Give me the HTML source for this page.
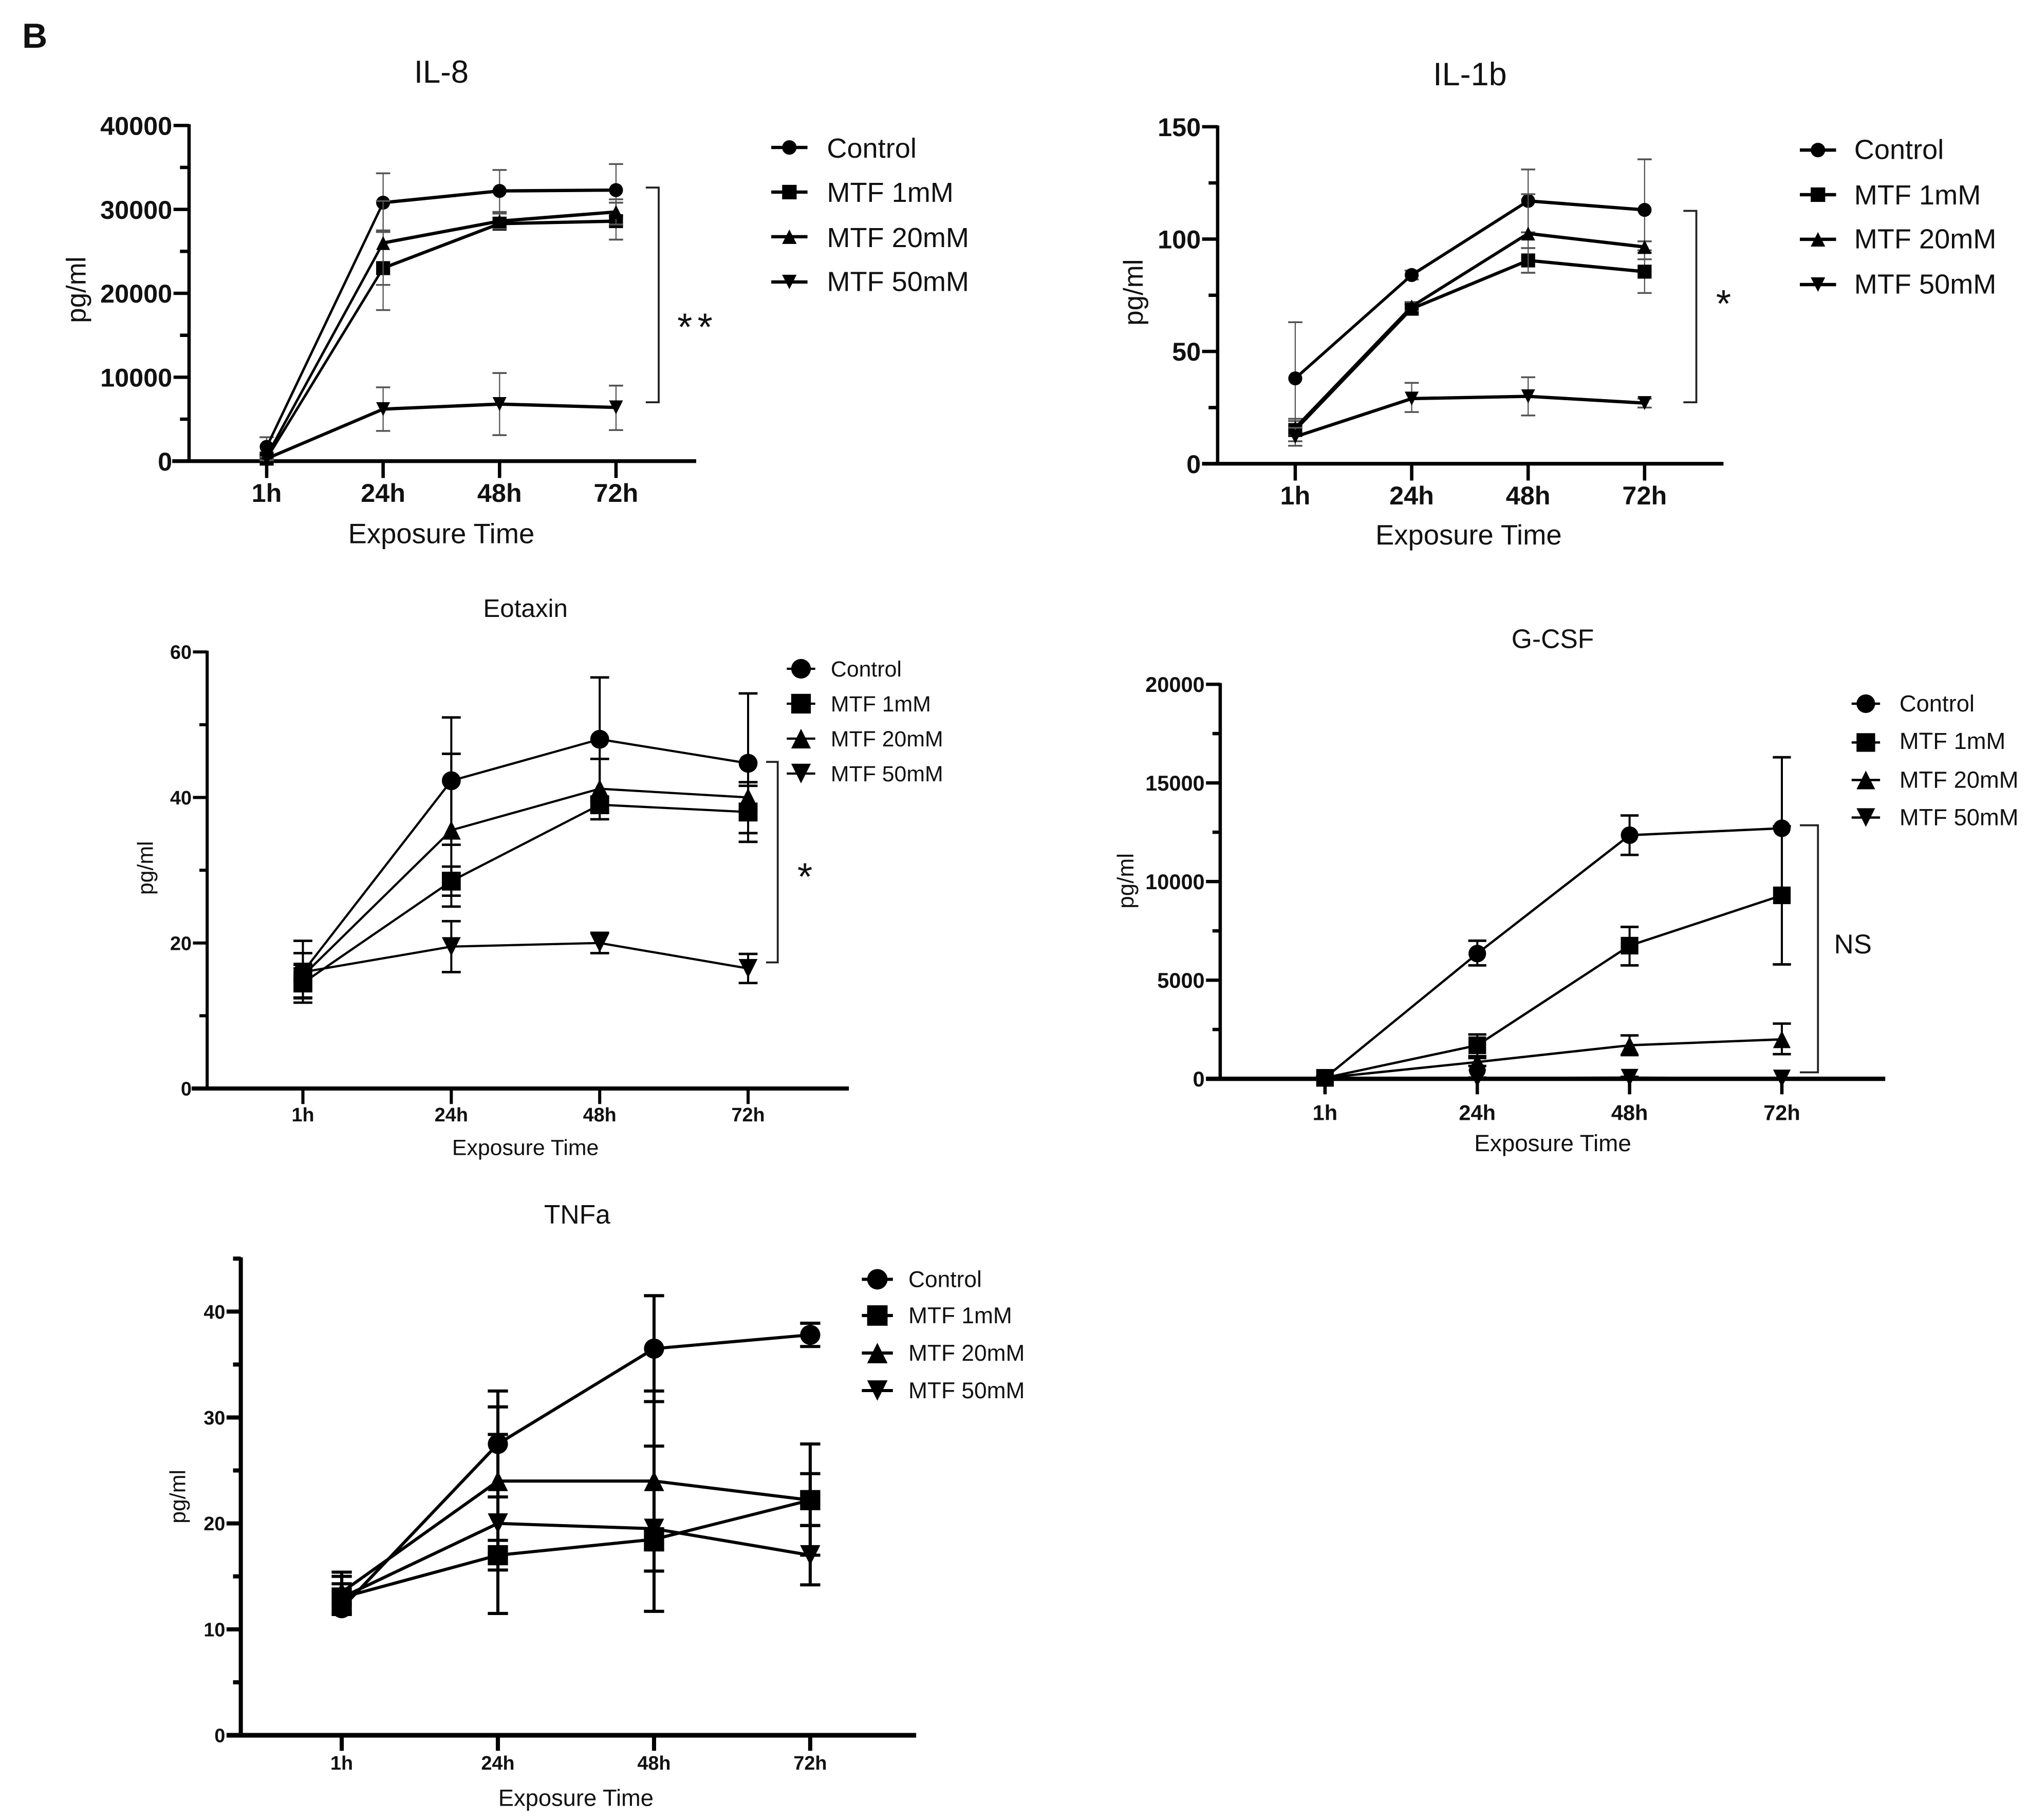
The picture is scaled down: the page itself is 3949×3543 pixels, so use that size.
<!DOCTYPE html>
<html lang="en">
<head>
<meta charset="utf-8">
<title>Cytokine secretion over exposure time</title>
<style>
html,body{margin:0;padding:0;background:#fff;}
svg{display:block;}
text{font-family:"Liberation Sans",Arial,sans-serif;fill:#111;}
.bracket{fill:none;stroke:#222;stroke-width:1.5;}
</style>
</head>
<body>
<svg id="figure" xmlns="http://www.w3.org/2000/svg" width="3949" height="3543" viewBox="0 0 1568 1407">
<rect x="0" y="0" width="1568" height="1407" fill="#fff"/>
<text x="17" y="37" font-size="27" font-weight="bold">B</text>

<g id="p1">
<text x="341" y="64" font-size="24.5" text-anchor="middle">IL-8</text>
<text x="341" y="420" font-size="21.6" text-anchor="middle">Exposure Time</text>
<text transform="translate(66 224) rotate(-90)" font-size="21" text-anchor="middle">pg/ml</text>
<text x="639" y="122" font-size="21.5">Control</text>
<text x="639" y="156" font-size="21.5">MTF 1mM</text>
<text x="639" y="191" font-size="21.5">MTF 20mM</text>
<text x="639" y="225" font-size="21.5">MTF 50mM</text>
<polyline class="bracket" points="499,145 509,145 509,311 499,311"/>
<text x="539" y="263" font-size="30" text-anchor="middle" letter-spacing="4">**</text>
</g>

<g id="p2">
<text x="1136" y="66" font-size="25" text-anchor="middle">IL-1b</text>
<text x="1135" y="421" font-size="21.6" text-anchor="middle">Exposure Time</text>
<text transform="translate(883 226) rotate(-90)" font-size="21" text-anchor="middle">pg/ml</text>
<text x="1433" y="123" font-size="21.5">Control</text>
<text x="1433" y="158" font-size="21.5">MTF 1mM</text>
<text x="1433" y="192" font-size="21.5">MTF 20mM</text>
<text x="1433" y="227" font-size="21.5">MTF 50mM</text>
<polyline class="bracket" points="1301,163 1311,163 1311,311 1301,311"/>
<text x="1332" y="245" font-size="30" text-anchor="middle">*</text>
</g>

<g id="p3">
<text x="406" y="477" font-size="19.6" text-anchor="middle">Eotaxin</text>
<text x="406" y="893" font-size="17" text-anchor="middle">Exposure Time</text>
<text transform="translate(118 671) rotate(-90)" font-size="17" text-anchor="middle">pg/ml</text>
<text x="642" y="523" font-size="17">Control</text>
<text x="642" y="550" font-size="17">MTF 1mM</text>
<text x="642" y="577" font-size="17">MTF 20mM</text>
<text x="642" y="604" font-size="17">MTF 50mM</text>
<polyline class="bracket" points="592,589 601,589 601,744 592,744"/>
<text x="622" y="688" font-size="30" text-anchor="middle">*</text>
</g>

<g id="p4">
<text x="1200" y="501" font-size="20.5" text-anchor="middle">G-CSF</text>
<text x="1200" y="890" font-size="18.2" text-anchor="middle">Exposure Time</text>
<text transform="translate(876 681) rotate(-90)" font-size="17.5" text-anchor="middle">pg/ml</text>
<text x="1468" y="550" font-size="18">Control</text>
<text x="1468" y="579" font-size="18">MTF 1mM</text>
<text x="1468" y="609" font-size="18">MTF 20mM</text>
<text x="1468" y="638" font-size="18">MTF 50mM</text>
<polyline class="bracket" points="1391,638 1405,638 1405,829 1391,829"/>
<text x="1432" y="737" font-size="21" text-anchor="middle">NS</text>
</g>

<g id="p5">
<text x="446" y="946" font-size="20.5" text-anchor="middle">TNFa</text>
<text x="445" y="1396" font-size="18" text-anchor="middle">Exposure Time</text>
<text transform="translate(143 1157) rotate(-90)" font-size="17" text-anchor="middle">pg/ml</text>
<text x="702" y="995" font-size="17.6">Control</text>
<text x="702" y="1023" font-size="17.6">MTF 1mM</text>
<text x="702" y="1052" font-size="17.6">MTF 20mM</text>
<text x="702" y="1081" font-size="17.6">MTF 50mM</text>
</g>
</svg>

<script>
const timeLabels = ['1h', '24h', '48h', '72h'];
const seriesNames = ['control', 'mtf-1mm', 'mtf-20mm', 'mtf-50mm'];

const il8Ticks = [0, 10000, 20000, 30000, 40000];
const il8Minor = [5000, 15000, 25000, 35000];
const il8Control = [1700, 30800, 32200, 32300];
const il8ControlHigh = [2850, 34300, 34700, 35400];
const il8ControlLow = [700, 27300, 29700, 29200];
const il8Mtf1 = [300, 23000, 28300, 28600];
const il8Mtf1High = [900, 27500, 28900, 30800];
const il8Mtf1Low = [100, 18000, 27700, 26400];
const il8Mtf20 = [600, 26000, 28600, 29700];
const il8Mtf20High = [1000, 31000, 29500, 31200];
const il8Mtf20Low = [200, 21000, 27700, 28200];
const il8Mtf50 = [300, 6200, 6800, 6400];
const il8Mtf50High = [500, 8800, 10500, 9000];
const il8Mtf50Low = [100, 3600, 3100, 3700];

const il1bTicks = [0, 50, 100, 150];
const il1bMinor = [25, 75, 125];
const il1bControl = [38, 84, 117, 113];
const il1bControlHigh = [63, 86, 131, 135.5];
const il1bControlLow = [13, 82, 103, 91];
const il1bMtf1 = [15, 69, 90.5, 85.5];
const il1bMtf1High = [20, 71, 96, 95];
const il1bMtf1Low = [10, 67, 85, 76];
const il1bMtf20 = [16, 70, 102.5, 96.5];
const il1bMtf20High = [19, 72, 120, 99];
const il1bMtf20Low = [13, 68, 85, 94];
const il1bMtf50 = [12, 29, 30, 27];
const il1bMtf50High = [16, 36, 38.5, 29];
const il1bMtf50Low = [8, 23, 21.5, 25];

const eotaxinTicks = [0, 20, 40, 60];
const eotaxinMinor = [10, 30, 50];
const eotaxinControl = [16, 42.3, 48, 44.7];
const eotaxinControlHigh = [20.3, 51, 56.5, 54.3];
const eotaxinControlLow = [11.8, 33.5, 39.5, 35.1];
const eotaxinMtf1 = [14.5, 28.5, 39, 38];
const eotaxinMtf1High = [16.5, 30.5, 40, 42.1];
const eotaxinMtf1Low = [12.5, 26.5, 38, 33.9];
const eotaxinMtf20 = [15.5, 35.5, 41.2, 40];
const eotaxinMtf20High = [18.6, 46, 45.3, 41.6];
const eotaxinMtf20Low = [12.4, 25, 37, 38.4];
const eotaxinMtf50 = [16, 19.5, 20, 16.5];
const eotaxinMtf50High = [17, 23, 21.4, 18.5];
const eotaxinMtf50Low = [15, 16, 18.6, 14.5];

const gcsfTicks = [0, 5000, 10000, 15000, 20000];
const gcsfMinor = [2500, 7500, 12500, 17500];
const gcsfControl = [50, 6350, 12350, 12700];
const gcsfControlHigh = [100, 7000, 13350, 16300];
const gcsfControlLow = [10, 5750, 11350, 5800];
const gcsfMtf1 = [50, 1700, 6750, 9300];
const gcsfMtf1High = [100, 2250, 7700, 12800];
const gcsfMtf1Low = [10, 1150, 5750, 5800];
const gcsfMtf20 = [50, 850, 1700, 2000];
const gcsfMtf20High = [100, 1050, 2200, 2800];
const gcsfMtf20Low = [10, 650, 1200, 1250];
const gcsfMtf50 = [20, 30, 60, 20];
const gcsfMtf50High = [40, 60, 100, 40];
const gcsfMtf50Low = [0, 0, 20, 0];
const gcsfExtraCircle = [null, 430, null, null];

const tnfaTicks = [0, 10, 20, 30, 40];
const tnfaMinor = [5, 15, 25, 35, 45];
const tnfaControl = [12, 27.5, 36.5, 37.8];
const tnfaControlHigh = [12.4, 32.5, 41.5, 38.9];
const tnfaControlLow = [11.6, 22.5, 31.5, 36.7];
const tnfaMtf1 = [13, 17, 18.5, 22.2];
const tnfaMtf1High = [14.3, 18.4, 19.5, 27.5];
const tnfaMtf1Low = [11.4, 15.6, 17.5, 17];
const tnfaMtf20 = [13.5, 24, 24, 22.2];
const tnfaMtf20High = [15.4, 31, 32.5, 24.7];
const tnfaMtf20Low = [11.8, 17, 15.5, 19.8];
const tnfaMtf50 = [13, 20, 19.5, 17];
const tnfaMtf50High = [15, 28.4, 27.3, 19.8];
const tnfaMtf50Low = [11.5, 11.5, 11.7, 14.2];

const SVGNS = 'http://www.w3.org/2000/svg';
const panels = [
  {id: 'p1', key: 'il8', axisX: 146, top: 97, y0: 356.5, max: 40000, axisStart: 133, axisEnd: 538, x0: 206, dx: 90,
   tickFont: 20, labelY: 388, axisW: 2.6, xAxisW: 2.9, lineW: 1.7, lineK: 1.5, errW: 0.9, capW: 1.4, errColor: '#555', cap: 5.5, r: 5.4, tickLen: 12, minorLen: 7,
   ticks: il8Ticks, minor: il8Minor,
   series: [[il8Control, il8ControlHigh, il8ControlLow], [il8Mtf1, il8Mtf1High, il8Mtf1Low], [il8Mtf20, il8Mtf20High, il8Mtf20Low], [il8Mtf50, il8Mtf50High, il8Mtf50Low]],
   legendX: 610, legendYs: [114, 148.5, 183, 218], legendHalf: 14, legendR: 5.6},
  {id: 'p2', key: 'il1b', axisX: 941, top: 98, y0: 358.5, max: 150, axisStart: 929, axisEnd: 1332, x0: 1001, dx: 90,
   tickFont: 20, labelY: 390, axisW: 2.6, xAxisW: 2.9, lineW: 1.7, lineK: 1.5, errW: 0.9, capW: 1.4, errColor: '#555', cap: 5.5, r: 5.4, tickLen: 12, minorLen: 7,
   ticks: il1bTicks, minor: il1bMinor,
   series: [[il1bControl, il1bControlHigh, il1bControlLow], [il1bMtf1, il1bMtf1High, il1bMtf1Low], [il1bMtf20, il1bMtf20High, il1bMtf20Low], [il1bMtf50, il1bMtf50High, il1bMtf50Low]],
   legendX: 1405, legendYs: [116, 150.5, 185, 220], legendHalf: 14, legendR: 5.6},
  {id: 'p3', key: 'eotaxin', axisX: 160, top: 504, y0: 841.5, max: 60, axisStart: 148, axisEnd: 656, x0: 234, dx: 114.7,
   tickFont: 15, labelY: 867, axisW: 2.4, xAxisW: 3.2, lineW: 1.7, lineK: 1, errW: 1.6, capW: 1.9, errColor: '#000', cap: 7.3, r: 7.3, tickLen: 11, minorLen: 6,
   ticks: eotaxinTicks, minor: eotaxinMinor,
   series: [[eotaxinControl, eotaxinControlHigh, eotaxinControlLow], [eotaxinMtf1, eotaxinMtf1High, eotaxinMtf1Low], [eotaxinMtf20, eotaxinMtf20High, eotaxinMtf20Low], [eotaxinMtf50, eotaxinMtf50High, eotaxinMtf50Low]],
   legendX: 619, legendYs: [517, 544, 571, 598], legendHalf: 11, legendR: 7.6},
  {id: 'p4', key: 'gcsf', axisX: 943, top: 529, y0: 834, max: 20000, axisStart: 932, axisEnd: 1457, x0: 1024, dx: 117.7,
   tickFont: 16.5, labelY: 866, axisW: 2.6, xAxisW: 3.4, lineW: 1.8, lineK: 1, errW: 1.6, capW: 1.9, errColor: '#000', cap: 7, r: 6.8, tickLen: 11, minorLen: 6,
   ticks: gcsfTicks, minor: gcsfMinor,
   series: [[gcsfControl, gcsfControlHigh, gcsfControlLow], [gcsfMtf1, gcsfMtf1High, gcsfMtf1Low], [gcsfMtf20, gcsfMtf20High, gcsfMtf20Low], [gcsfMtf50, gcsfMtf50High, gcsfMtf50Low]],
   legendX: 1442, legendYs: [544, 574, 603, 632], legendHalf: 11, legendR: 7.2,
   extraCircle: gcsfExtraCircle},
  {id: 'p5', key: 'tnfa', axisX: 186, top: 973, y0: 1341.5, max: 45, axisStart: 175, axisEnd: 708, x0: 264, dx: 120.7,
   tickFont: 15, labelY: 1368, axisW: 3.2, xAxisW: 3.6, lineW: 2.4, lineK: 1, errW: 2.4, capW: 2.4, errColor: '#000', cap: 7.8, r: 7.8, tickLen: 11, minorLen: 6,
   ticks: tnfaTicks, minor: tnfaMinor,
   series: [[tnfaControl, tnfaControlHigh, tnfaControlLow], [tnfaMtf1, tnfaMtf1High, tnfaMtf1Low], [tnfaMtf20, tnfaMtf20High, tnfaMtf20Low], [tnfaMtf50, tnfaMtf50High, tnfaMtf50Low]],
   legendX: 678, legendYs: [989, 1017, 1046, 1075], legendHalf: 12, legendR: 7.9}
];

function make(parent, tag, attrs) {
  const el = document.createElementNS(SVGNS, tag);
  for (const k in attrs) el.setAttribute(k, attrs[k]);
  parent.appendChild(el);
  return el;
}

function drawMarker(parent, kind, x, y, r) {
  let el;
  if (kind === 0) {
    el = make(parent, 'circle', {cx: x, cy: y, r: r, fill: '#000'});
  } else if (kind === 1) {
    el = make(parent, 'rect', {x: x - r, y: y - r, width: 2 * r, height: 2 * r, fill: '#000'});
  } else if (kind === 2) {
    el = make(parent, 'polygon', {points: [x, y - r, x + r, y + r, x - r, y + r].join(' '), fill: '#000'});
  } else {
    el = make(parent, 'polygon', {points: [x, y + r, x + r, y - r, x - r, y - r].join(' '), fill: '#000'});
  }
  return el;
}

panels.forEach(function (p) {
  const root = document.getElementById(p.id);
  const xScale = function (i) { return p.x0 + p.dx * i; };
  const yScale = function (v) { return p.y0 - (v / p.max) * (p.y0 - p.top); };

  const yAxis = make(root, 'line', {x1: p.axisX, x2: p.axisX, y1: p.top - 1, y2: p.y0, stroke: '#000', 'stroke-width': p.axisW});
  
  
  const xAxis = make(root, 'line', {x1: p.axisStart, x2: p.axisEnd, y1: p.y0, y2: p.y0, stroke: '#000', 'stroke-width': p.xAxisW});
  
  

  p.ticks.forEach(function (t) {
    const y = yScale(t);
    const tick = make(root, 'line', {x1: p.axisX - p.tickLen, x2: p.axisX, y1: y, y2: y, stroke: '#000', 'stroke-width': p.axisW});
    
    
    const label = make(root, 'text', {x: p.axisX - p.tickLen - 1, y: y + p.tickFont * 0.36, 'font-size': p.tickFont, 'font-weight': 'bold', 'text-anchor': 'end'});
    label.textContent = String(t);
    
    
  });

  p.minor.forEach(function (t) {
    const y = yScale(t);
    const tick = make(root, 'line', {x1: p.axisX - p.minorLen, x2: p.axisX, y1: y, y2: y, stroke: '#000', 'stroke-width': p.axisW});
    
    
  });

  timeLabels.forEach(function (lab, i) {
    const x = xScale(i);
    const tick = make(root, 'line', {x1: x, x2: x, y1: p.y0, y2: p.y0 + p.tickLen + 1, stroke: '#000', 'stroke-width': p.axisW});
    
    
    const label = make(root, 'text', {x: x, y: p.labelY, 'font-size': p.tickFont, 'font-weight': 'bold', 'text-anchor': 'middle'});
    label.textContent = lab;
    
    
  });

  p.series.forEach(function (s, si) {
    const g = make(root, 'g', {});
    
    
    const values = s[0], high = s[1], low = s[2];
    values.forEach(function (v, i) {
      const x = xScale(i);
      const hi = yScale(high[i]), lo = yScale(low[i]);
      const stem = make(g, 'line', {x1: x, x2: x, y1: hi, y2: lo, stroke: p.errColor, 'stroke-width': p.errW});
      
      
      const caps = make(g, 'path', {d: 'M' + (x - p.cap) + ' ' + hi + 'H' + (x + p.cap) + 'M' + (x - p.cap) + ' ' + lo + 'H' + (x + p.cap), fill: 'none', stroke: p.errColor, 'stroke-width': p.capW});
      
      
    });
    const line = make(g, 'polyline', {points: values.map(function (v, i) { return xScale(i) + ',' + (yScale(v) / p.lineK); }).join(' '), transform: 'scale(1 ' + p.lineK + ')', fill: 'none', stroke: '#000', 'stroke-width': p.lineW});
    
    
    values.forEach(function (v, i) {
      const m = drawMarker(g, si, xScale(i), yScale(v), p.r);
      
      
    });
  });

  if (p.extraCircle) {
    p.extraCircle.forEach(function (v, i) {
      if (v === null) return;
      const m = drawMarker(root, 0, xScale(i), yScale(v), p.r * 0.95);
      
      
    });
  }

  p.legendYs.forEach(function (y, si) {
    const key = make(root, 'line', {x1: p.legendX - p.legendHalf, x2: p.legendX + p.legendHalf, y1: y, y2: y, stroke: '#000', 'stroke-width': p.lineW * p.lineK});
    
    
    const m = drawMarker(root, si, p.legendX, y, p.legendR);
    
    
  });
});
</script>
</body>
</html>
